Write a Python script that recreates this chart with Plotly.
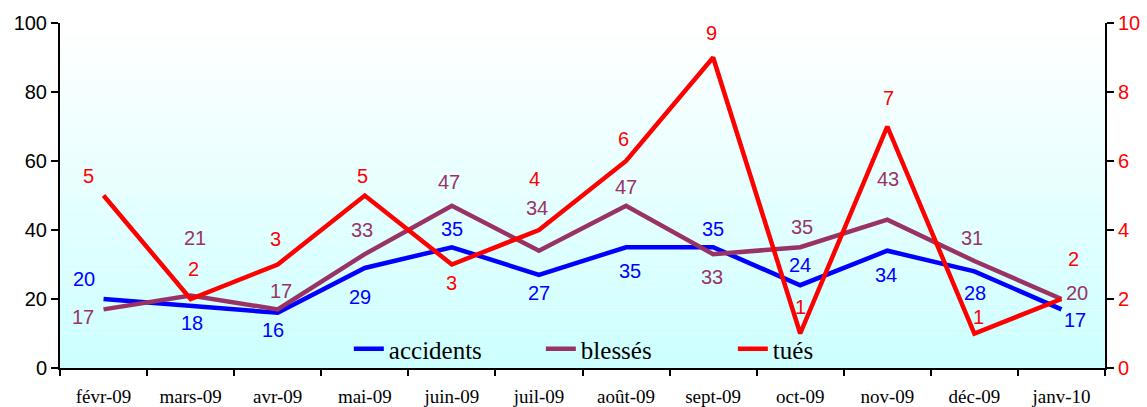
import plotly.graph_objects as go

months = ["févr-09", "mars-09", "avr-09", "mai-09", "juin-09", "juil-09",
          "août-09", "sept-09", "oct-09", "nov-09", "déc-09", "janv-10"]
accidents = [20, 18, 16, 29, 35, 27, 35, 35, 24, 34, 28, 17]
blesses = [17, 21, 17, 33, 47, 34, 47, 33, 35, 43, 31, 20]
tues = [5, 2, 3, 5, 3, 4, 6, 9, 1, 7, 1, 2]

left_ticks = [0, 20, 40, 60, 80, 100]
right_ticks = [0, 2, 4, 6, 8, 10]

C_ACC = "#0000FF"
C_BLE = "#993366"
C_TUE = "#FF0000"

# label offsets (dx, dy) in pixels, dy positive = up
off_acc = [(-20, 20), (1, -17), (-5, -17), (-5, -29), (0, 18), (0, -18),
           (4, -24), (0, 18), (0, 20), (-1, -24), (1, -22), (14, -11)]
off_ble = [(-21, -8), (4, 58), (3, 18), (-3, 24), (-3, 24), (-2, 43),
           (0, 19), (-1, -23), (2, 20), (1, 41), (-2, 23), (16, 6)]
off_tue = [(-15, 20), (3, 30), (-2, 26), (-2, 20), (0, -18), (-4, 51),
           (-3, 22), (-2, 25), (0, 27), (1, 29), (4, 17), (12, 40)]

fig = go.Figure()
fig.add_trace(go.Scatter(x=months, y=accidents, name="accidents", mode="lines",
                         line=dict(color=C_ACC, width=4.5)))
fig.add_trace(go.Scatter(x=months, y=blesses, name="blessés", mode="lines",
                         line=dict(color=C_BLE, width=4.5)))
fig.add_trace(go.Scatter(x=months, y=tues, name="tués", mode="lines", yaxis="y2",
                         line=dict(color=C_TUE, width=4.5)))

annots = []
for series, offs, col, yref in [(accidents, off_acc, C_ACC, "y"),
                                (blesses, off_ble, C_BLE, "y"),
                                (tues, off_tue, C_TUE, "y2")]:
    for m, v, (dx, dy) in zip(months, series, offs):
        annots.append(dict(x=m, y=v, xref="x", yref=yref, text=str(v),
                           showarrow=False, xshift=dx, yshift=dy,
                           font=dict(family="Liberation Sans, Arial", size=20, color=col)))

# vertical gradient background: white at top to light cyan at bottom
shapes = []
n = 60
for i in range(n):
    t = i / (n - 1)
    r = int(round(204 + (255 - 204) * t))
    shapes.append(dict(type="rect", xref="paper", yref="paper",
                       x0=0, x1=1, y0=i / n, y1=(i + 1) / n,
                       fillcolor=f"rgb({r},255,255)", line=dict(width=0),
                       layer="below"))

fig.update_layout(
    width=1147, height=407,
    margin=dict(l=60, r=42, t=23, b=39, autoexpand=False),
    paper_bgcolor="white", plot_bgcolor="white",
    showlegend=True,
    legend=dict(orientation="h", x=0.552, xanchor="center", y=0.055, yanchor="middle",
                bgcolor="rgba(0,0,0,0)", entrywidth=147, entrywidthmode="pixels",
                font=dict(family="Liberation Serif, Times New Roman", size=25, color="black")),
    annotations=annots,
    shapes=shapes,
    xaxis=dict(type="category", showgrid=False, showline=True, linecolor="black",
               linewidth=2, ticks="outside", ticklen=6, tickwidth=2, tickcolor="black",
               tickson="boundaries", range=[-0.5, 11.5], ticklabelstandoff=10,
               automargin=False,
               tickfont=dict(family="Liberation Serif, Times New Roman", size=19, color="black")),
    yaxis=dict(range=[0, 100], tickvals=left_ticks, showgrid=False, zeroline=False,
               showline=True, linecolor="black", linewidth=2, ticks="outside",
               ticklen=7, tickwidth=2, tickcolor="black", automargin=False,
               tickfont=dict(family="Liberation Sans, Arial", size=20, color="black")),
    yaxis2=dict(range=[0, 10], tickvals=right_ticks, overlaying="y", side="right",
                showgrid=False, zeroline=False, showline=True, linecolor="black",
                linewidth=2, ticks="outside", ticklen=7, tickwidth=2, tickcolor="black",
                automargin=False,
                tickfont=dict(family="Liberation Sans, Arial", size=20, color=C_TUE)),
)

fig.write_html("out.html", config={"displayModeBar": False},
               post_script="document.body.style.margin='0';")
